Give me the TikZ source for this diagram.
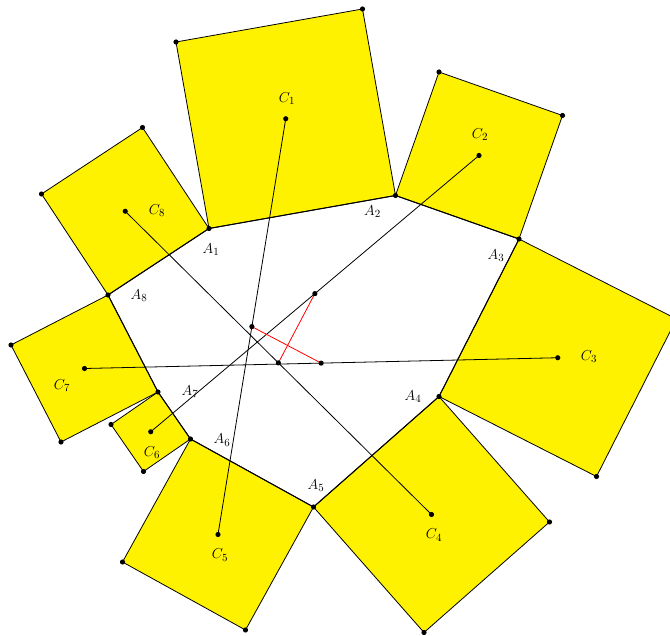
\documentclass[tikz,border=0pt]{standalone}
\usetikzlibrary{calc}
\definecolor{sqfill}{HTML}{FFF200}
\definecolor{segc}{HTML}{FF0000}
\newcommand\fsP{\fontsize{15}{18}\selectfont}
\begin{document}
\begin{tikzpicture}[x=1pt,y=-1pt,
  sq/.style={fill=sqfill,draw=black,line width=0.8pt,line join=round},
  side/.style={black,line width=1pt,line join=round},
  cline/.style={black,line width=0.8pt},
  mseg/.style={segc,line width=0.8pt},
  lab/.style={font=\fsP,inner sep=0}]
\useasboundingbox (0,0) rectangle (670,636);
\clip (0,0) rectangle (670,636);
\def\r{2.6pt} % dot radius
% ============ octagon ============
\coordinate (A1) at (209,228.5);
\coordinate (A2) at (395.5,195.5);
\coordinate (A3) at (519,239);
\coordinate (A4) at (439,396.5);
\coordinate (A5) at (313.5,507);
\coordinate (A6) at (190.5,439);
\coordinate (A7) at (158,392);
\coordinate (A8) at (108,295);
\node[lab] (lA1) at (211,250) {$A_1$};
\node[lab] (lA2) at (372.5,212) {$A_2$};
\node[lab] (lA3) at (496,256) {$A_3$};
\node[lab] (lA4) at (413,397) {$A_4$};
\node[lab] (lA5) at (316,486) {$A_5$};
\node[lab] (lA6) at (222,440) {$A_6$};
\node[lab] (lA7) at (190,392) {$A_7$};
\node[lab] (lA8) at (139,296) {$A_8$};
% ============ squares on the sides ============
\foreach \i/\j in {1/2,2/3,3/4,4/5,5/6,6/7,7/8,8/1} {
  \coordinate (P\i) at ($(A\i)!1!90:(A\j)$);
  \coordinate (Q\i) at ($(A\j)!1!-90:(A\i)$);
  \coordinate (C\i) at ($(A\i)!0.5!(Q\i)$);
  \draw[sq] (A\i) -- (A\j) -- (Q\i) -- (P\i) -- cycle;
}
\node[lab] (lC1) at (287,99) {$C_1$};
\node[lab] (lC2) at (480,135) {$C_2$};
\node[lab] (lC3) at (589,357) {$C_3$};
\node[lab] (lC4) at (434,535) {$C_4$};
\node[lab] (lC5) at (220,555) {$C_5$};
\node[lab] (lC6) at (152,453) {$C_6$};
\node[lab] (lC7) at (62,386) {$C_7$};
\node[lab] (lC8) at (157,211) {$C_8$};
\draw[side] (A1) -- (A2) -- (A3) -- (A4) -- (A5) -- (A6) -- (A7) -- (A8) -- cycle;
% ============ opposite centres ============
\foreach \i/\j in {1/5,2/6,3/7,4/8} {
  \draw[cline] (C\i) -- (C\j);
  \coordinate (M\i) at ($(C\i)!0.5!(C\j)$);
}
\draw[mseg] (M1) -- (M3);
\draw[mseg] (M2) -- (M4);
% points
\foreach \k in {1,...,8} {
  \fill (A\k) circle (\r);
  \fill (P\k) circle (\r);
  \fill (Q\k) circle (\r);
  \fill (C\k) circle (\r);
}
\foreach \k in {1,...,4} {\fill (M\k) circle (\r);}
\end{tikzpicture}
\end{document}
